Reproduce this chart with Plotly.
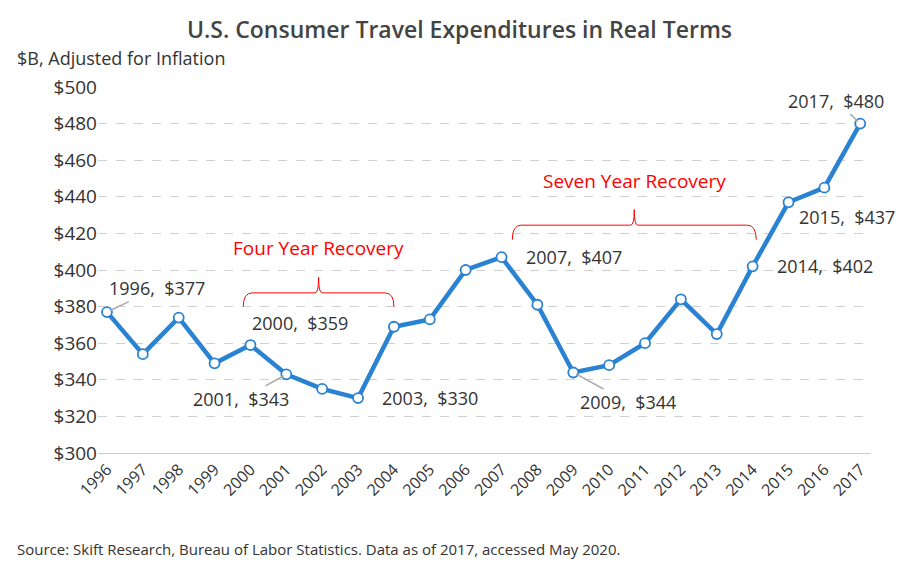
import plotly.graph_objects as go

years = list(range(1996, 2018))
spend = [377, 354, 374, 349, 359, 343, 335, 330, 369, 373, 400, 407,
         381, 344, 348, 360, 384, 365, 402, 437, 445, 480]
# (year, label x offset px, y offset px, show leader line)
labels = {1996: (50, -24, True), 2000: (50, -22, False), 2001: (-45, 25, True),
          2003: (72, 0, False), 2007: (72, 0, False), 2009: (55, 30, True),
          2014: (72, 0, False), 2015: (58, 15, False), 2017: (-24, -23, True)}

fig = go.Figure(go.Scatter(
    x=years, y=spend, mode="lines+markers",
    line=dict(color="#2a82d2", width=4.5),
    marker=dict(size=10, color="white", line=dict(color="#2a82d2", width=1.8)),
    hoverinfo="x+y"))

for yr, (ax, ay, arrow) in labels.items():
    v = spend[years.index(yr)]
    fig.add_annotation(x=yr, y=v, text=f"{yr},  ${v}", ax=ax, ay=ay,
                       showarrow=True, arrowhead=0, arrowwidth=1.5,
                       arrowcolor="#aaaaaa" if arrow else "rgba(0,0,0,0)",
                       font=dict(size=18, color="#333333"), standoff=3)

def bracket(x0, x1, ybot, ytop, ytip, text, ytext):
    xm = (x0 + x1) / 2
    fig.add_shape(type="path", line=dict(color="red", width=1),
                  path=f"M {x0},{ybot} Q {x0},{ytop} {x0+0.25},{ytop} L {xm-0.1},{ytop} "
                       f"Q {xm},{ytop} {xm},{ytip} Q {xm},{ytop} {xm+0.1},{ytop} "
                       f"L {x1-0.25},{ytop} Q {x1},{ytop} {x1},{ybot}")
    fig.add_annotation(x=xm, y=ytext, text=text, showarrow=False,
                       font=dict(size=19, color="red"))

bracket(1999.8, 2004.0, 380, 387.5, 396, "Four Year Recovery", 412)
bracket(2007.3, 2014.1, 416.5, 424.5, 433, "Seven Year Recovery", 448.5)

fig.update_layout(
    width=903, height=569, plot_bgcolor="white", paper_bgcolor="white",
    margin=dict(l=90, r=40, t=79, b=124), showlegend=False,
    font=dict(family="Open Sans", color="#333333"),
    title=dict(text="U.S. Consumer Travel Expenditures in Real Terms", x=0.5, y=0.975,
               xanchor="center", font=dict(size=23, color="#444444", weight=600)),
    xaxis=dict(range=[1995.75, 2017.3], tickmode="array", tickvals=years, tickangle=-45,
               tickfont=dict(size=16), showgrid=False, showline=True, linecolor="#cccccc",
               zeroline=False, automargin=False),
    yaxis=dict(range=[300, 500], dtick=20, tickprefix="$", tickfont=dict(size=19),
               gridcolor="#d0d0d0", griddash="dash", zeroline=False, automargin=False))
fig.add_annotation(xref="paper", yref="paper", x=-0.107, y=1.08, xanchor="left",
                   yanchor="middle", text="$B, Adjusted for Inflation", showarrow=False,
                   font=dict(size=18, color="#333333"))
fig.add_annotation(xref="paper", yref="paper", x=-0.107, y=-0.262, xanchor="left",
                   yanchor="middle",
                   text="Source: Skift Research, Bureau of Labor Statistics. Data as of 2017, accessed May 2020.",
                   showarrow=False, font=dict(size=15, color="#333333"))
fig.write_html("out.html")
